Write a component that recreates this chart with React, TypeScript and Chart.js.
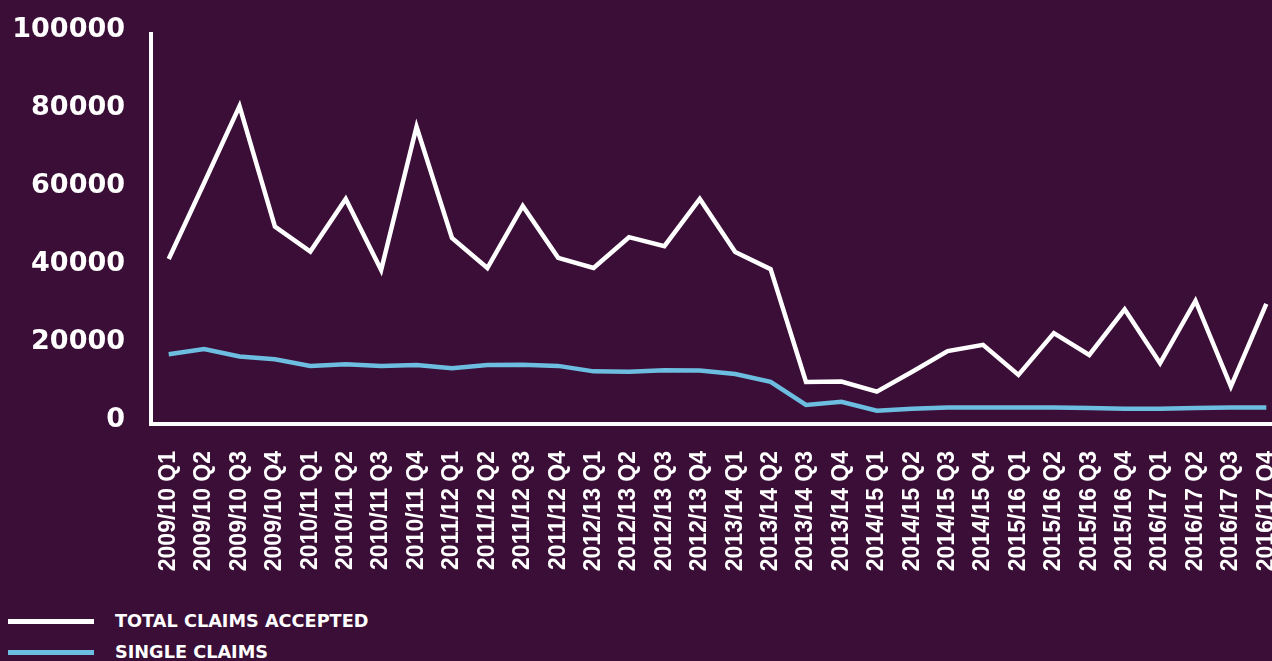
import React, { useEffect, useRef } from "react";
import { Chart, registerables } from "chart.js";

Chart.register(...registerables);

const categories = [
  "2009/10 Q1", "2009/10 Q2", "2009/10 Q3", "2009/10 Q4",
  "2010/11 Q1", "2010/11 Q2", "2010/11 Q3", "2010/11 Q4",
  "2011/12 Q1", "2011/12 Q2", "2011/12 Q3", "2011/12 Q4",
  "2012/13 Q1", "2012/13 Q2", "2012/13 Q3", "2012/13 Q4",
  "2013/14 Q1", "2013/14 Q2", "2013/14 Q3", "2013/14 Q4",
  "2014/15 Q1", "2014/15 Q2", "2014/15 Q3", "2014/15 Q4",
  "2015/16 Q1", "2015/16 Q2", "2015/16 Q3", "2015/16 Q4",
  "2016/17 Q1", "2016/17 Q2", "2016/17 Q3", "2016/17 Q4",
];

const totalClaimsAccepted = [
  42300, 61800, 81500, 50600,
  44200, 57700, 39500, 76200,
  47700, 40000, 55900, 42600,
  40000, 47900, 45600, 57700,
  44100, 39700, 10800, 10900,
  8300, 13400, 18700, 20300,
  12600, 23300, 17700, 29400,
  15600, 31600, 9600, 30800,
];

const singleClaims = [
  17900, 19200, 17300, 16600,
  14900, 15300, 14900, 15100,
  14300, 15100, 15200, 14900,
  13500, 13400, 13800, 13700,
  12800, 10800, 4900, 5700,
  3400, 3900, 4200, 4200,
  4200, 4200, 4100, 3900,
  3900, 4100, 4200, 4200,
];

const yTicks = [0, 20000, 40000, 60000, 80000, 100000];

const seriesNames = ["TOTAL CLAIMS ACCEPTED", "SINGLE CLAIMS"];
const seriesColors = ["#ffffff", "#6cbde0"];

const BG = "#3a0e36";

export default function App() {
  const canvasRef = useRef<HTMLCanvasElement | null>(null);

  useEffect(() => {
    document.body.style.margin = "0";
    document.body.style.background = BG;
    document.body.style.overflow = "hidden";
    const canvas = canvasRef.current;
    if (!canvas) return;
    const chart = new Chart(canvas, {
      type: "line",
      data: {
        labels: categories,
        datasets: [
          {
            label: seriesNames[0],
            data: totalClaimsAccepted,
            borderColor: seriesColors[0],
            backgroundColor: seriesColors[0],
            borderWidth: 4.5,
            pointRadius: 0,
            tension: 0,
            borderJoinStyle: "miter",
          },
          {
            label: seriesNames[1],
            data: singleClaims,
            borderColor: seriesColors[1],
            backgroundColor: seriesColors[1],
            borderWidth: 4.5,
            pointRadius: 0,
            tension: 0,
            borderJoinStyle: "miter",
          },
        ],
      },
      options: {
        animation: false,
        responsive: false,
        maintainAspectRatio: false,
        layout: { padding: { top: 34, right: 0, left: 0, bottom: 0 } },
        plugins: {
          legend: { display: false },
          tooltip: { enabled: false },
        },
        scales: {
          x: {
            type: "category",
            offset: true,
            grid: { display: false, drawTicks: false },
            border: { display: true, color: "#ffffff", width: 4 },
            ticks: {
              autoSkip: false,
              maxRotation: 90,
              minRotation: 90,
              padding: 27,
              color: "#ffffff",
              font: { family: "'Liberation Sans', Arial, sans-serif", size: 23, weight: "bold" },
            },
            afterFit: (scale: any) => {
              scale.height = 176;
              scale.paddingLeft = 0;
              scale.paddingRight = 0;
            },
          },
          y: {
            min: 0,
            max: 100000,
            afterBuildTicks: (scale: any) => {
              scale.ticks = yTicks.map((v) => ({ value: v }));
            },
            grid: { display: false, drawTicks: false },
            border: { display: true, color: "#ffffff", width: 4 },
            ticks: {
              padding: 26,
              labelOffset: -4,
              color: "#ffffff",
              font: { family: "'DejaVu Sans', sans-serif", size: 27, weight: "bold" },
              callback: (v: any) => String(v),
            },
            afterFit: (scale: any) => {
              scale.width = 151;
              scale.paddingTop = 0;
              scale.paddingBottom = 0;
            },
          },
        },
      },
    });
    return () => chart.destroy();
  }, []);

  return (
    <div style={{ position: "relative", width: 1272, height: 661, overflow: "hidden", background: BG }}>
      <canvas
        ref={canvasRef}
        width={1284}
        height={600}
        style={{ position: "absolute", left: 0, top: 0, width: 1284, height: 600 }}
      />
      {seriesNames.map((name, i) => (
        <div
          key={name}
          style={{
            position: "absolute",
            left: 8,
            top: 608 + i * 31,
            height: 26,
            display: "flex",
            alignItems: "center",
            fontFamily: "'DejaVu Sans', sans-serif",
            fontWeight: "bold",
            fontSize: 17.7,
            color: "#ffffff",
            whiteSpace: "nowrap",
          }}
        >
          <span
            style={{
              display: "inline-block",
              width: 86,
              height: 5,
              background: seriesColors[i],
              marginRight: 21,
            }}
          />
          <span>{name}</span>
        </div>
      ))}
    </div>
  );
}
